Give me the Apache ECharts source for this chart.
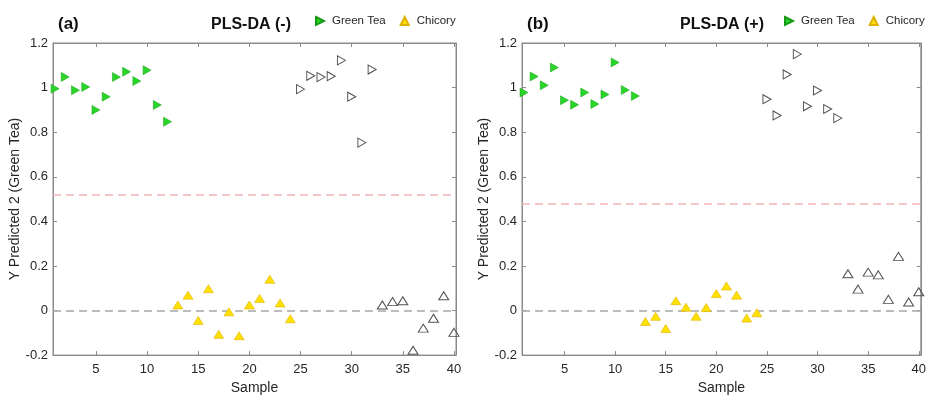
<!DOCTYPE html>
<html>
<head>
<meta charset="utf-8">
<script src="https://cdn.jsdelivr.net/npm/echarts@6/dist/echarts.min.js"></script>
<style>
  html, body { margin: 0; padding: 0; background: #fff; }
  #chart { width: 929px; height: 400px; }
</style>
</head>
<body>
<div id="chart"></div>
<script>
// Sample numbers for each group
const samplesGreenTea = [1, 2, 3, 4, 5, 6, 7, 8, 9, 10, 11, 12];
const samplesChicory = [13, 14, 15, 16, 17, 18, 19, 20, 21, 22, 23, 24];
const samplesGreenTeaTest = [25, 26, 27, 28, 29, 30, 31, 32];
const samplesChicoryTest = [33, 34, 35, 36, 37, 38, 39, 40];

// (a) PLS-DA, negative mode: Y predicted 2 (Green Tea)
const negGreenTea = [0.995, 1.048, 0.988, 1.003, 0.900, 0.959, 1.047, 1.071, 1.029, 1.078, 0.922, 0.847];
const negChicory = [0.025, 0.069, -0.045, 0.098, -0.107, -0.006, -0.113, 0.025, 0.054, 0.140, 0.034, -0.037];
const negGreenTeaTest = [0.993, 1.053, 1.047, 1.051, 1.122, 0.959, 0.753, 1.081];
const negChicoryTest = [0.025, 0.040, 0.044, -0.178, -0.079, -0.035, 0.066, -0.098];
const negThreshold = 0.516;

// (b) PLS-DA, positive mode
const posGreenTea = [0.978, 1.050, 1.010, 1.090, 0.943, 0.923, 0.978, 0.926, 0.969, 1.113, 0.989, 0.962];
const posChicory = [-0.049, -0.026, -0.081, 0.044, 0.015, -0.026, 0.013, 0.076, 0.110, 0.069, -0.034, -0.010];
const posGreenTeaTest = [0.948, 0.875, 1.059, 1.150, 0.916, 0.987, 0.904, 0.863];
const posChicoryTest = [0.165, 0.096, 0.172, 0.160, 0.050, 0.243, 0.038, 0.084];
const posThreshold = 0.481;

// Axis ticks
const xTicks = [5, 10, 15, 20, 25, 30, 35, 40];
const yTicks = [-0.2, 0, 0.2, 0.4, 0.6, 0.8, 1, 1.2];
const yTickLabels = ['-0.2', '0', '0.2', '0.4', '0.6', '0.8', '1', '1.2'];

const panelTitles = ['PLS-DA (-)', 'PLS-DA (+)'];
const panelLetters = ['(a)', '(b)'];

const FONT = 'Liberation Sans, Arial, sans-serif';
const AXIS_COLOR = '#8a8a8a';
const TEXT_COLOR = '#262626';
const GREEN = '#27d627';
const GREEN_EDGE = '#169a16';
const YELLOW = '#ffe100';
const YELLOW_EDGE = '#e0b000';
const HOLLOW_EDGE = '#505050';

const pair = (xs, ys) => xs.map((x, i) => [x, ys[i]]);

const panels = [
  { left: 53, gt: negGreenTea, ch: negChicory, gtT: negGreenTeaTest, chT: negChicoryTest, thr: negThreshold },
  { left: 522, gt: posGreenTea, ch: posChicory, gtT: posGreenTeaTest, chT: posChicoryTest, thr: posThreshold }
];
const GRID_W = 403, GRID_TOP = 43, GRID_H = 316;

const grid = [], xAxis = [], yAxis = [], series = [], title = [], legend = [];

panels.forEach((p, k) => {
  grid.push({ left: p.left, top: GRID_TOP, width: GRID_W, height: GRID_H,
    show: true, borderColor: AXIS_COLOR, borderWidth: 1, backgroundColor: 'transparent' });

  const xBase = {
    type: 'value', gridIndex: k, min: 0.8, max: 40.2,
    splitLine: { show: false },
    axisLine: { show: true, onZero: false, lineStyle: { color: AXIS_COLOR, width: 1 } },
    axisTick: { show: true, inside: true, length: 4, customValues: xTicks, lineStyle: { color: AXIS_COLOR } }
  };
  xAxis.push(Object.assign({}, xBase, {
    position: 'bottom',
    name: 'Sample', nameLocation: 'middle', nameGap: 25,
    nameTextStyle: { fontFamily: FONT, fontSize: 14, color: TEXT_COLOR },
    axisLabel: { show: true, customValues: xTicks, margin: 8, fontFamily: FONT, fontSize: 13, color: TEXT_COLOR }
  }));
  xAxis.push(Object.assign({}, xBase, { position: 'top', axisLabel: { show: false } }));

  const yBase = {
    type: 'value', gridIndex: k, min: -0.2, max: 1.2, interval: 0.2,
    splitLine: { show: false },
    axisLine: { show: true, onZero: false, lineStyle: { color: AXIS_COLOR, width: 1 } },
    axisTick: { show: true, inside: true, length: 4, lineStyle: { color: AXIS_COLOR } }
  };
  yAxis.push(Object.assign({}, yBase, {
    position: 'left',
    name: 'Y Predicted 2 (Green Tea)', nameLocation: 'middle', nameGap: 30, nameRotate: 90,
    nameTextStyle: { fontFamily: FONT, fontSize: 14, color: TEXT_COLOR },
    axisLabel: {
      show: true, margin: 5, fontFamily: FONT, fontSize: 13, color: TEXT_COLOR,
      formatter: v => {
        const i = yTicks.findIndex(t => Math.abs(t - v) < 1e-6);
        return i >= 0 ? yTickLabels[i] : '';
      }
    }
  }));
  yAxis.push(Object.assign({}, yBase, { position: 'right', axisLabel: { show: false } }));

  const xi = k * 2, yi = k * 2;
  const dashed = (val, color) => ({
    silent: true, symbol: ['none', 'none'], label: { show: false },
    lineStyle: { color: color, type: [8, 5], width: 1.5 },
    data: [{ yAxis: val }]
  });

  series.push({
    name: 'Green Tea', type: 'scatter', xAxisIndex: xi, yAxisIndex: yi,
    symbol: 'triangle', symbolRotate: -90, symbolSize: [9, 8],
    itemStyle: { color: GREEN, borderColor: GREEN_EDGE, borderWidth: 0.5, opacity: 1 },
    data: pair(samplesGreenTea, p.gt), z: 5
  });
  series.push({
    name: 'Chicory', type: 'scatter', xAxisIndex: xi, yAxisIndex: yi,
    symbol: 'triangle', symbolSize: [10, 8],
    itemStyle: { color: YELLOW, borderColor: YELLOW_EDGE, borderWidth: 0.6, opacity: 1 },
    data: pair(samplesChicory, p.ch), z: 5,
    markLine: dashed(0, '#a6a6a6')
  });
  series.push({
    name: 'Green Tea test', type: 'scatter', xAxisIndex: xi, yAxisIndex: yi,
    symbol: 'triangle', symbolRotate: -90, symbolSize: [9, 8],
    itemStyle: { color: 'rgba(255,255,255,0)', borderColor: HOLLOW_EDGE, borderWidth: 1, opacity: 1 },
    data: pair(samplesGreenTeaTest, p.gtT), z: 5,
    markLine: dashed(p.thr, '#f5b4b4')
  });
  series.push({
    name: 'Chicory test', type: 'scatter', xAxisIndex: xi, yAxisIndex: yi,
    symbol: 'triangle', symbolSize: [10, 8],
    itemStyle: { color: 'rgba(255,255,255,0)', borderColor: HOLLOW_EDGE, borderWidth: 1, opacity: 1 },
    data: pair(samplesChicoryTest, p.chT), z: 5
  });

  title.push({ text: panelLetters[k], left: p.left, top: 11,
    textStyle: { fontFamily: FONT, fontSize: 17, fontWeight: 'bold', color: '#111' } });
  title.push({ text: panelTitles[k], left: p.left + 153, top: 12,
    textStyle: { fontFamily: FONT, fontSize: 16, fontWeight: 'bold', color: '#111' } });

  legend.push({
    left: p.left + 262, top: 15, width: 160, padding: 0,
    itemWidth: 8, itemHeight: 8, itemGap: 14,
    selectedMode: false,
    textStyle: { fontFamily: FONT, fontSize: 11.5, color: TEXT_COLOR, padding: [0, 0, 0, 3] },
    data: [
      { name: 'Green Tea', icon: 'path://M0,0L10,5L0,10Z' },
      { name: 'Chicory', icon: 'triangle' }
    ]
  });
});

const chart = echarts.init(document.getElementById('chart'), null, { renderer: 'canvas' });
chart.setOption({
  animation: false,
  backgroundColor: '#fff',
  title, legend, grid, xAxis, yAxis, series
});
</script>
</body>
</html>
